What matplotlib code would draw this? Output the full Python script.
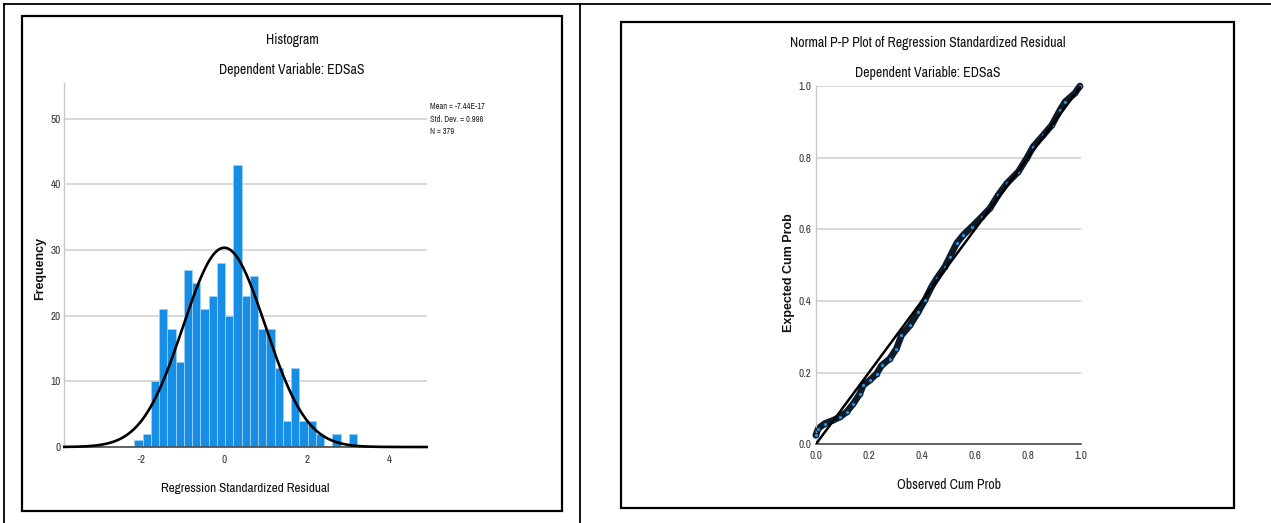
import numpy as np
import matplotlib
matplotlib.use("Agg")
import matplotlib.pyplot as plt
from matplotlib import font_manager
from matplotlib.patches import Rectangle
from matplotlib.lines import Line2D
from matplotlib.ticker import FormatStrFormatter

# ----------------------
# Datos
# ----------------------
hist_counts = [1, 2, 10, 21, 18, 13, 27, 25, 21, 23, 28, 20, 43, 23, 26,
               18, 18, 12, 4, 12, 4, 4, 2, 0, 2, 0, 2]
bin_start = -2.18
bin_width = 0.2
resid_mean = -7.44e-17
resid_sd = 0.996
n_obs = 379
hist_yticks = [0, 10, 20, 30, 40, 50]
hist_xticks = [-2, 0, 2, 4]

pp_observed = [0.0, 0.009, 0.034, 0.065, 0.09, 0.116, 0.141, 0.166, 0.179, 0.204,
               0.229, 0.248, 0.279, 0.304, 0.323, 0.355, 0.386, 0.411, 0.436, 0.456,
               0.487, 0.506, 0.531, 0.556, 0.588, 0.626, 0.657, 0.688, 0.72, 0.764,
               0.795, 0.82, 0.858, 0.89, 0.921, 0.94, 0.977, 0.996]
pp_expected = [0.025, 0.044, 0.058, 0.067, 0.076, 0.09, 0.113, 0.141, 0.165, 0.179,
               0.197, 0.22, 0.239, 0.267, 0.304, 0.332, 0.369, 0.402, 0.439, 0.463,
               0.496, 0.524, 0.561, 0.584, 0.607, 0.635, 0.659, 0.696, 0.728, 0.761,
               0.798, 0.831, 0.863, 0.891, 0.933, 0.956, 0.98, 1.0]
pp_ticks = [0.0, 0.2, 0.4, 0.6, 0.8, 1.0]

# ----------------------
# Fuentes (estilo Arial Narrow de SPSS)
# ----------------------
installed = {f.name for f in font_manager.fontManager.ttflist}
narrow = "Liberation Sans"
for cand in ["Arial Narrow", "Liberation Sans Narrow", "Archivo Narrow", "Roboto Condensed",
             "Asap Condensed"]:
    if cand in installed:
        narrow = cand
        break
plt.rcParams["font.family"] = [narrow, "DejaVu Sans"]
plt.rcParams["axes.unicode_minus"] = False
BOLD_FAM = ["Liberation Sans", "DejaVu Sans"]

W, H = 1271, 523
fig = plt.figure(figsize=(W / 100, H / 100), dpi=100)


def fx(x):
    return x / W


def fy(y):
    return 1 - y / H


def axes_px(left, right, top, bottom):
    return fig.add_axes([fx(left), fy(bottom), (right - left) / W, (bottom - top) / H])


# ----------------------
# Marco de tabla
# ----------------------
for xs, ys in [((4, W), (4, 4)), ((4, 4), (4, H)), ((580, 580), (4, H))]:
    fig.add_artist(Line2D([fx(v) for v in xs], [fy(v) for v in ys],
                          transform=fig.transFigure, color="black", lw=1.3))

for l, t, r, b in [(22, 16, 562, 511), (621, 21.5, 1233.5, 507.5)]:
    fig.add_artist(Rectangle((fx(l), fy(b)), (r - l) / W, (b - t) / H,
                             transform=fig.transFigure, fill=False,
                             edgecolor="black", lw=1.6))

GRID = "#d2d2d2"
TICKC = "#333333"
TXT = "#111111"


def style_axes(ax, ypad, xpad):
    for s in ["top", "right"]:
        ax.spines[s].set_visible(False)
    ax.spines["left"].set_color("#c8c8c8")
    ax.spines["left"].set_linewidth(1.0)
    ax.spines["bottom"].set_color("#4a4a4a")
    ax.spines["bottom"].set_linewidth(1.2)
    ax.yaxis.grid(True, color=GRID, lw=1.2)
    ax.set_axisbelow(True)
    ax.tick_params(axis="y", length=0, pad=ypad, labelsize=8, labelcolor=TICKC)
    ax.tick_params(axis="x", length=0, pad=xpad, labelsize=8, labelcolor=TICKC)
    ax.set_facecolor("none")


# ----------------------
# Histograma
# ----------------------
ax1 = axes_px(64.3, 426.7, 82.7, 447)
lefts = bin_start + bin_width * np.arange(len(hist_counts))
ax1.bar(lefts, hist_counts, width=bin_width, align="edge",
        color="#168ee6", edgecolor="#9fd0f5", linewidth=0.6, zorder=2)
xs = np.linspace(-3.874, 4.901, 400)
dens = n_obs * bin_width / (resid_sd * np.sqrt(2 * np.pi)) * \
    np.exp(-0.5 * ((xs - resid_mean) / resid_sd) ** 2)
ax1.plot(xs, dens, color="black", lw=1.9, zorder=3, clip_on=False)
ax1.set_xlim(-3.874, 4.901)
ax1.set_ylim(0, 55.5)
ax1.set_xticks(hist_xticks)
ax1.set_yticks(hist_yticks)
style_axes(ax1, 2.5, 6)

fig.text(fx(292), fy(40), "Histogram", ha="center", va="center", fontsize=10, color=TXT)
fig.text(fx(292), fy(70), "Dependent Variable: EDSaS", ha="center", va="center",
         fontsize=10, color=TXT)
fig.text(fx(40), fy(268), "Frequency", ha="center", va="center", rotation=90,
         fontsize=9, fontweight="bold", family=BOLD_FAM, color=TXT)
fig.text(fx(245), fy(489), "Regression Standardized Residual", ha="center", va="center",
         fontsize=9.5, color=TXT)
fig.text(fx(430), fy(119), "Mean = %.2E\nStd. Dev. = %.3f\nN = %d" % (resid_mean, resid_sd, n_obs),
         ha="left", va="center", fontsize=6, color="#222222", linespacing=1.5)

# ----------------------
# Grafico P-P
# ----------------------
ax2 = axes_px(815.8, 1081, 86, 444.3)
ax2.plot(pp_observed, pp_expected, color="#0d1b2a", lw=4.8, zorder=2,
         solid_capstyle="round", clip_on=False)
ax2.plot(pp_observed, pp_expected, "o", ms=3.2, mfc="#2a90dc", mec="#0d1b2a",
         mew=0.8, zorder=3, clip_on=False)
ax2.plot([0, 1], [0, 1], color="black", lw=1.8, zorder=4)
ax2.set_xlim(0, 1)
ax2.set_ylim(0, 1)
ax2.set_xticks(pp_ticks)
ax2.set_yticks(pp_ticks)
ax2.xaxis.set_major_formatter(FormatStrFormatter("%.1f"))
ax2.yaxis.set_major_formatter(FormatStrFormatter("%.1f"))
style_axes(ax2, 3, 4.5)

fig.text(fx(928), fy(43), "Normal P-P Plot of Regression Standardized Residual",
         ha="center", va="center", fontsize=10, color=TXT)
fig.text(fx(928), fy(72.7), "Dependent Variable: EDSaS", ha="center", va="center",
         fontsize=10, color=TXT)
fig.text(fx(789), fy(273), "Expected Cum Prob", ha="center", va="center", rotation=90,
         fontsize=9, fontweight="bold", family=BOLD_FAM, color=TXT)
fig.text(fx(949), fy(485), "Observed Cum Prob", ha="center", va="center",
         fontsize=10, color=TXT)

fig.savefig("out.png", dpi=100)
